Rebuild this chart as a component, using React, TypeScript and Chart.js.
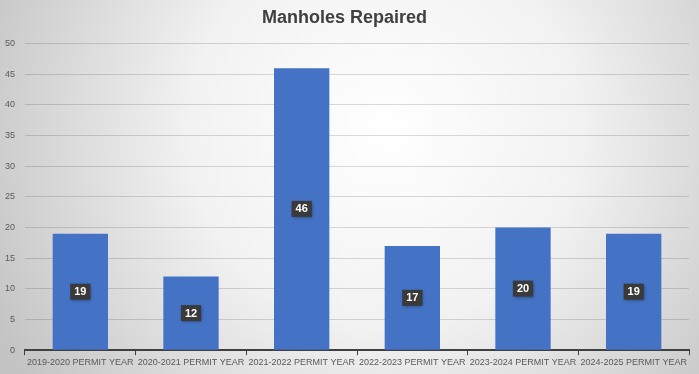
import React, { useEffect, useRef } from "react";
import { Chart, registerables } from "chart.js";

Chart.register(...registerables);

const categories = [
  "2019-2020 PERMIT YEAR",
  "2020-2021 PERMIT YEAR",
  "2021-2022 PERMIT YEAR",
  "2022-2023 PERMIT YEAR",
  "2023-2024 PERMIT YEAR",
  "2024-2025 PERMIT YEAR",
];
const repaired = [19, 12, 46, 17, 20, 19];
const title = "Manholes Repaired";

const bgPlugin = {
  id: "bgGradient",
  beforeDraw(chart: any) {
    const { ctx, width, height } = chart;
    ctx.save();
    const g = ctx.createRadialGradient(width * 0.55, height * 0.35, 0, width * 0.55, height * 0.35, width * 0.62);
    g.addColorStop(0, "#ffffff");
    g.addColorStop(0.45, "#f2f2f2");
    g.addColorStop(1, "#c4c4c4");
    ctx.fillStyle = g;
    ctx.fillRect(0, 0, width, height);
    ctx.restore();
  },
};

const labelPlugin = {
  id: "boxLabels",
  afterDatasetsDraw(chart: any) {
    const { ctx } = chart;
    const meta = chart.getDatasetMeta(0);
    const data = chart.data.datasets[0].data as number[];
    ctx.save();
    ctx.font = "bold 11px 'Liberation Sans'";
    ctx.textAlign = "center";
    ctx.textBaseline = "middle";
    meta.data.forEach((bar: any, i: number) => {
      const x = bar.x;
      const y = (bar.y + bar.base) / 2;
      const text = String(data[i]);
      const w = ctx.measureText(text).width + 8;
      const h = 16;
      ctx.shadowColor = "rgba(0,0,0,0.35)";
      ctx.shadowBlur = 3;
      ctx.shadowOffsetX = 1;
      ctx.shadowOffsetY = 1;
      ctx.fillStyle = "#3a3a3a";
      ctx.fillRect(x - w / 2, y - h / 2, w, h);
      ctx.shadowColor = "transparent";
      ctx.fillStyle = "#ffffff";
      ctx.fillText(text, x, y + 0.5);
    });
    ctx.restore();
  },
};

export default function App() {
  const ref = useRef<HTMLCanvasElement>(null);
  useEffect(() => {
    document.body.style.margin = "0";
    const chart = new Chart(ref.current!, {
      type: "bar",
      data: {
        labels: categories,
        datasets: [
          {
            data: repaired,
            backgroundColor: "#4472C4",
            barPercentage: 0.5,
            categoryPercentage: 1,
          },
        ],
      },
      options: {
        animation: false,
        responsive: false,
        maintainAspectRatio: false,
        layout: { padding: { left: 0, right: 10, top: 4, bottom: 4 } },
        plugins: {
          legend: { display: false },
          tooltip: { enabled: false },
          title: {
            display: true,
            text: title,
            color: "#404040",
            font: { family: "'Liberation Sans'", size: 18, weight: "bold" },
            padding: { top: 3, bottom: 15 },
          },
        },
        scales: {
          x: {
            grid: {
              offset: true,
              drawOnChartArea: false,
              drawTicks: true,
              tickLength: 5,
              color: "#404040",
            },
            border: { color: "#404040", width: 2 },
            ticks: {
              color: "#595959",
              font: { family: "'Liberation Sans'", size: 9 },
              maxRotation: 0,
              autoSkip: false,
              padding: 2,
            },
          },
          y: {
            min: 0,
            max: 50,
            ticks: {
              stepSize: 5,
              color: "#595959",
              font: { family: "'Liberation Sans'", size: 9 },
              padding: 10,
            },
            grid: { color: "rgba(0,0,0,0.14)", drawTicks: false },
            border: { display: false },
            afterFit(scale: any) {
              scale.width = 25;
            },
          },
        },
      },
      plugins: [bgPlugin, labelPlugin],
    });
    return () => chart.destroy();
  }, []);
  return (
    <div style={{ width: 699, height: 374 }}>
      <canvas ref={ref} width={699} height={374} />
    </div>
  );
}
